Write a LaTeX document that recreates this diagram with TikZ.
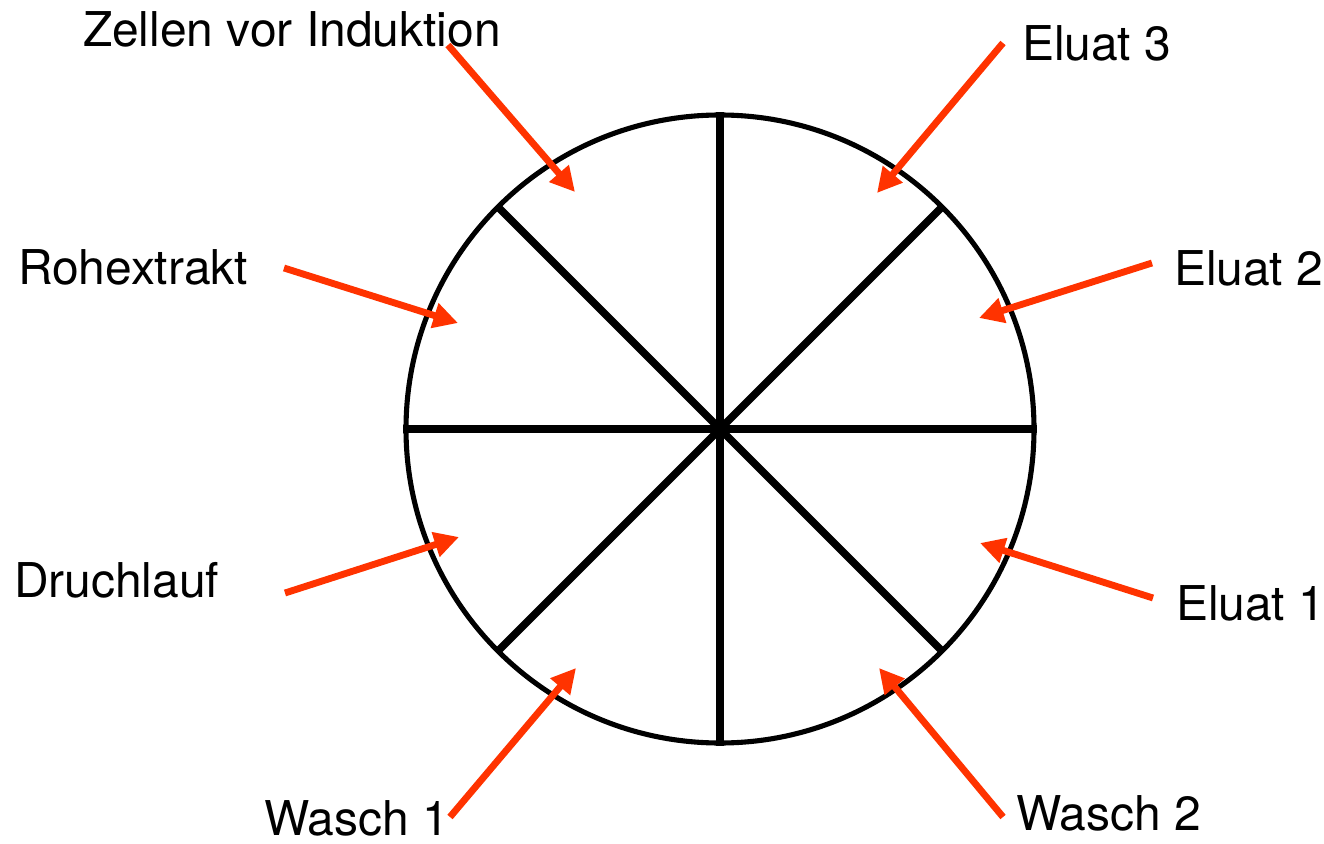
\documentclass[tikz,border=0pt]{standalone}
\usepackage{fontspec}
\setmainfont{TeX Gyre Heros}
\usepackage{xcolor}
\definecolor{cArrow}{HTML}{FF3300}
\definecolor{cLine}{HTML}{000000}
\usepackage{tikz}
\usetikzlibrary{positioning,arrows.meta}
\tikzset{
  node-label/.style={anchor=base west,inner sep=0pt,outer sep=0pt,
    font=\fontsize{27.3}{31}\selectfont},
  rim/.style={draw=cLine,line width=2.9pt},
  spoke/.style={draw=cLine,line width=4.3pt},
  arrow-fraction/.style={-{Triangle[length=14pt,width=14pt]},
    line width=3.9pt,draw=cArrow},
}

\begin{document}
\begin{tikzpicture}[x=0.02cm,y=-0.02cm]
  \useasboundingbox (0,0) rectangle (1324,844);
  \coordinate (mid) at (720,429);
  % Scheibe mit acht Fraktionen
  \draw[rim] (mid) circle[radius=314];
  \foreach \ang in {0,90,180,270}
    \draw[spoke] (mid) -- ++(\ang:317);
  \foreach \ang in {45,135,225,315}
    \draw[spoke] (mid) -- ++(\ang:313);
  % Beschriftungen
  \node[node-label] (zellen) at (83,47) {Zellen vor Induktion};
  \node[node-label] (eluat3) at (1022,61) {Eluat 3};
  \node[node-label] (roh) at (18,285) {Rohextrakt};
  \node[node-label] (eluat2) at (1174,286) {Eluat 2};
  \node[node-label] (durch) at (14,597) {Druchlauf};
  \node[node-label] (eluat1) at (1176,620) {Eluat 1};
  \node[node-label] (wasch1) at (264,835) {Wasch 1};
  \node[node-label] (wasch2) at (1016,830) {Wasch 2};
  % Pfeilenden
  \coordinate (zellen-s) at (448,45);   \coordinate (zellen-t) at (575,192);
  \coordinate (eluat3-s) at (1003,43);  \coordinate (eluat3-t) at (877,193);
  \coordinate (roh-s) at (284,268);     \coordinate (roh-t) at (458,323);
  \coordinate (eluat2-s) at (1152,263); \coordinate (eluat2-t) at (979,318);
  \coordinate (durch-s) at (285,593);   \coordinate (durch-t) at (459,537);
  \coordinate (eluat1-s) at (1153,598); \coordinate (eluat1-t) at (980,543);
  \coordinate (wasch1-s) at (450,817);  \coordinate (wasch1-t) at (576,668);
  \coordinate (wasch2-s) at (1003,817); \coordinate (wasch2-t) at (879,668);
  \foreach \fr in {zellen,eluat3,roh,eluat2,durch,eluat1,wasch1,wasch2}
    \draw[arrow-fraction] (\fr-s) -- (\fr-t);
\end{tikzpicture}
\end{document}
